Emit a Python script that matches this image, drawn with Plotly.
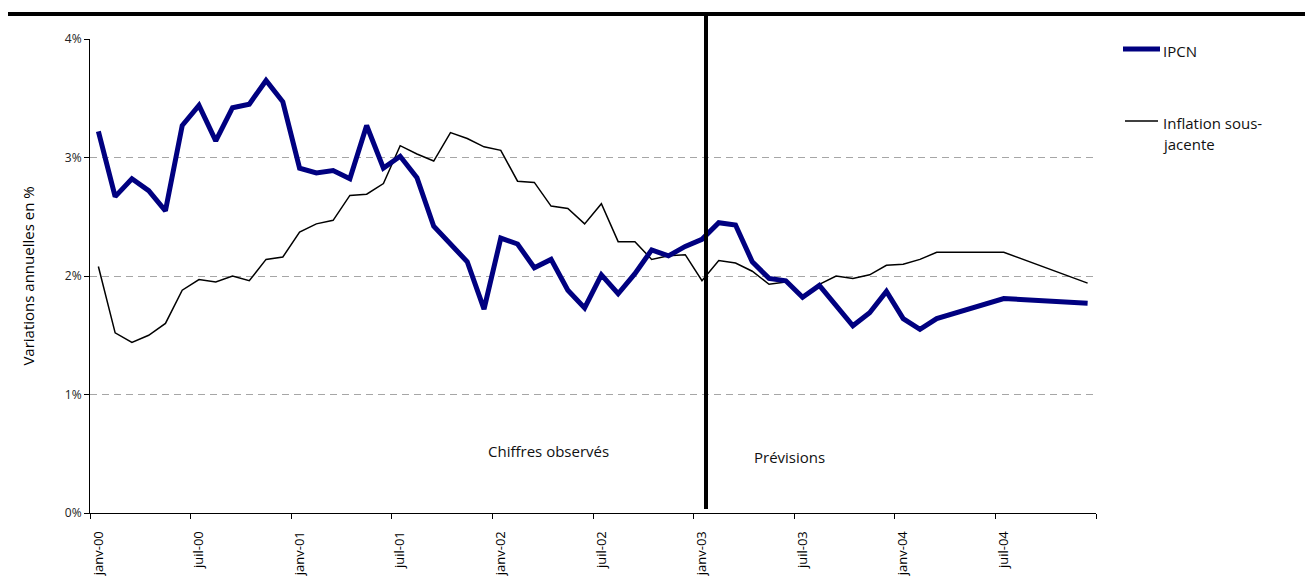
import plotly.graph_objects as go

# Monthly categories, January 2000 to December 2004
month_abbr = ["janv", "févr", "mars", "avr", "mai", "juin",
              "juil", "août", "sept", "oct", "nov", "déc"]
years = ["00", "01", "02", "03", "04"]
months = [f"{m}-{y}" for y in years for m in month_abbr]

# Annual change in the harmonised CPI (IPCN), % ; None = no monthly figure
ipcn = [3.22, 2.67, 2.82, 2.72, 2.55, 3.27, 3.44, 3.14, 3.42, 3.45, 3.65, 3.47,
        2.91, 2.87, 2.89, 2.82, 3.27, 2.91, 3.01, 2.83, 2.42, 2.27, 2.12, 1.72,
        2.32, 2.27, 2.07, 2.14, 1.88, 1.73, 2.01, 1.85, 2.02, 2.22, 2.17, 2.25,
        2.31, 2.45, 2.43, 2.12, 1.98, 1.96, 1.82, 1.92, 1.75, 1.58, 1.69, 1.87,
        1.64, 1.55, 1.64, None, None, None, 1.81, None, None, None, None, 1.77]

# Annual change in core inflation, %
inflation_sj = [2.08, 1.52, 1.44, 1.50, 1.60, 1.88, 1.97, 1.95, 2.00, 1.96, 2.14, 2.16,
                2.37, 2.44, 2.47, 2.68, 2.69, 2.78, 3.10, 3.03, 2.97, 3.21, 3.16, 3.09,
                3.06, 2.80, 2.79, 2.59, 2.57, 2.44, 2.61, 2.29, 2.29, 2.14, 2.17, 2.18,
                1.96, 2.13, 2.11, 2.04, 1.93, 1.95, 1.81, 1.93, 2.00, 1.98, 2.01, 2.09,
                2.10, 2.14, 2.20, None, None, None, 2.20, None, None, None, None, 1.94]

y_ticks = [0, 1, 2, 3, 4]
y_ticktext = ["0%", "1%", "2%", "3%", "4%"]
label_step = 6

FONT = "Open Sans"
NAVY = "#000080"

x_idx = list(range(len(months)))
label_pos = x_idx[::label_step]
label_txt = months[::label_step]

fig = go.Figure()
fig.add_trace(go.Scatter(x=x_idx, y=inflation_sj, mode="lines", name="Inflation sous-jacente",
                         line=dict(color="black", width=1.5), connectgaps=True))
fig.add_trace(go.Scatter(x=x_idx, y=ipcn, mode="lines", name="IPCN",
                         line=dict(color=NAVY, width=5), connectgaps=True))

W, H = 1305, 581
L, R, T, B = 90, 209, 39, 68
PW, PH = W - L - R, H - T - B


def px_x(px):
    return (px - L) / PW


def px_y(py):
    return (H - B - py) / PH


fig.update_layout(
    width=W, height=H,
    margin=dict(l=L, r=R, t=T, b=B),
    paper_bgcolor="white", plot_bgcolor="white",
    showlegend=False,
    font=dict(family=FONT, color="black", size=12),
    xaxis=dict(
        range=[-0.5, len(months) - 0.5],
        tickmode="array", tickvals=label_pos, ticktext=label_txt,
        tickangle=-90, ticks="", ticklabelstandoff=12,
        tickfont=dict(size=13, family=FONT),
        showline=True, linecolor="black", linewidth=1,
        showgrid=False, zeroline=False, automargin=False,
        minor=dict(tickmode="linear", tick0=-0.5, dtick=label_step,
                   ticks="outside", ticklen=5, tickcolor="black", tickwidth=1,
                   showgrid=False),
    ),
    yaxis=dict(
        range=[0, 4],
        tickmode="array", tickvals=y_ticks, ticktext=y_ticktext,
        ticks="outside", ticklen=5, tickcolor="black",
        tickfont=dict(size=12, family=FONT, color="#222"),
        showline=True, linecolor="black", linewidth=1,
        showgrid=True, gridcolor="#a6a6a6", gridwidth=1, griddash="7px,5px",
        zeroline=False, automargin=False,
        title=dict(text="Variations annuelles en %", font=dict(size=15, family=FONT),
                   standoff=26),
    ),
)

shapes = [
    # heavy rule along the top of the figure
    dict(type="line", xref="paper", yref="paper",
         x0=px_x(8), x1=px_x(1305), y0=px_y(14), y1=px_y(14),
         line=dict(color="black", width=4)),
    # separator between observed figures and forecasts
    dict(type="line", xref="paper", yref="paper",
         x0=px_x(706), x1=px_x(706), y0=px_y(509), y1=px_y(13),
         line=dict(color="black", width=4)),
    # legend keys
    dict(type="line", xref="paper", yref="paper",
         x0=px_x(1123), x1=px_x(1160), y0=px_y(49), y1=px_y(49),
         line=dict(color=NAVY, width=5)),
    dict(type="line", xref="paper", yref="paper",
         x0=px_x(1125), x1=px_x(1158), y0=px_y(121), y1=px_y(121),
         line=dict(color="black", width=1.5)),
]
fig.update_layout(shapes=shapes)

annots = [
    dict(text="Chiffres observés", x=px_x(548), y=px_y(451)),
    dict(text="Prévisions", x=px_x(789), y=px_y(457)),
]
for a in annots:
    fig.add_annotation(xref="paper", yref="paper", showarrow=False,
                       xanchor="center", yanchor="middle",
                       font=dict(size=15, family=FONT, color="#111"), **a)

legend_txt = [
    ("IPCN", 51),
    ("Inflation sous-", 123),
    ("jacente", 144),
]
for txt, py in legend_txt:
    fig.add_annotation(xref="paper", yref="paper", showarrow=False,
                       x=px_x(1161), y=px_y(py), xanchor="left", yanchor="middle",
                       text=txt, font=dict(size=15, family=FONT, color="#111"))

fig.write_html("out.html")
